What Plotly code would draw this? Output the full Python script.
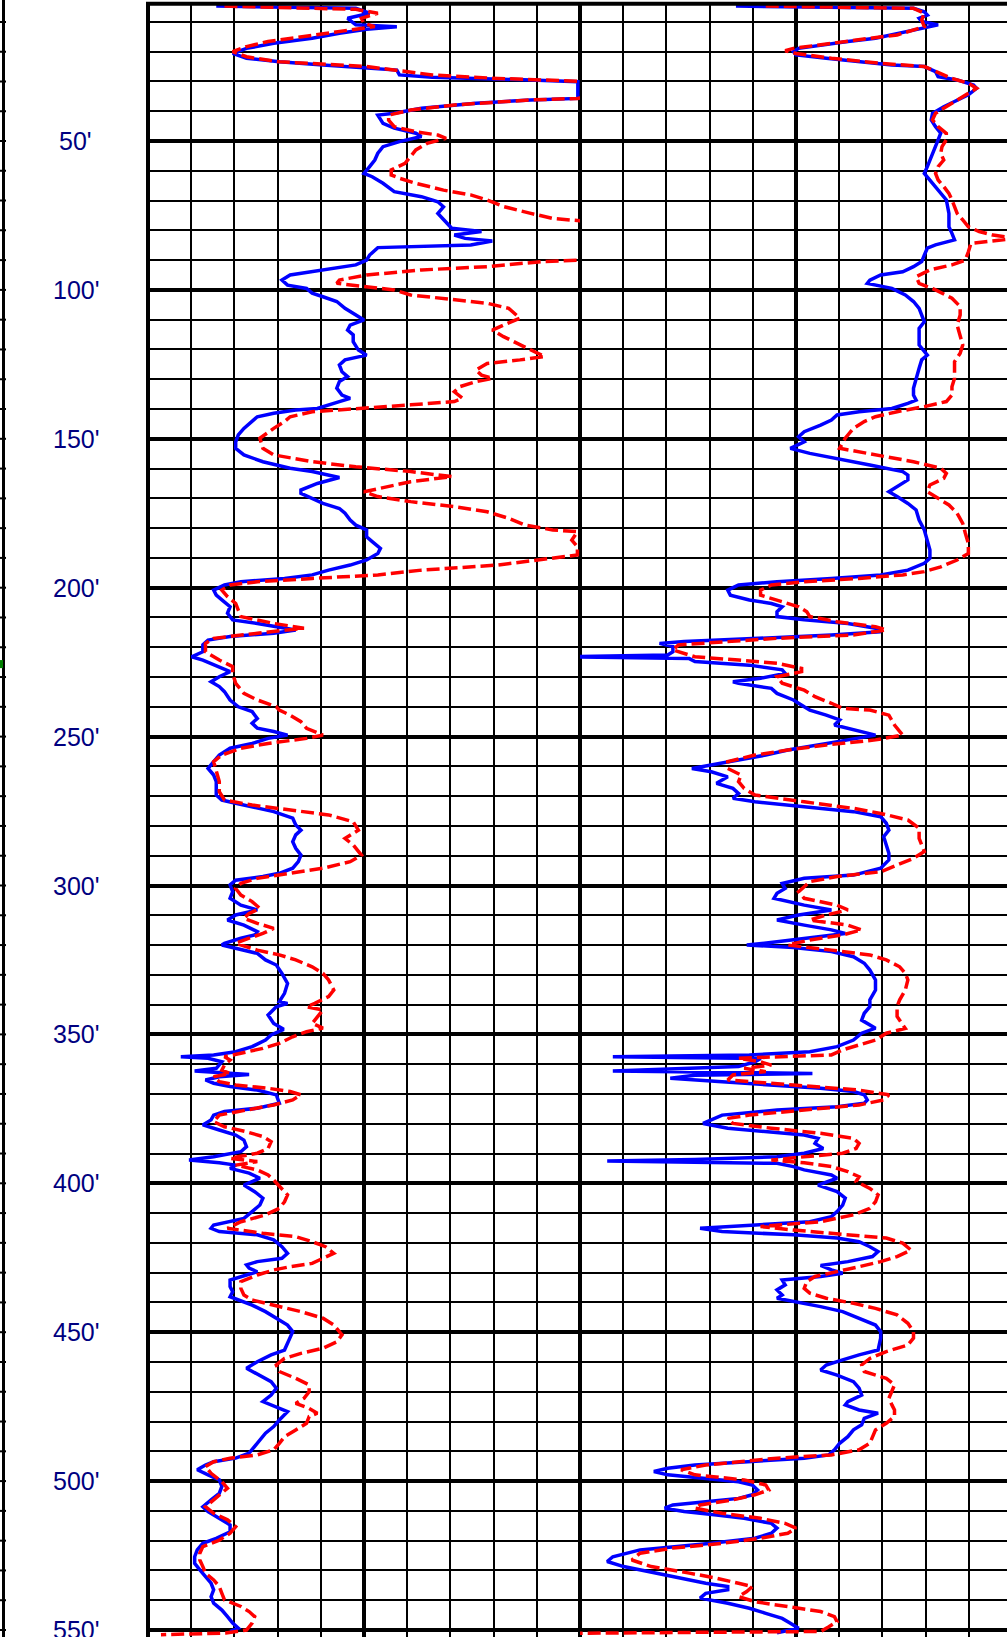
import plotly.graph_objects as go

W, H = 1007, 1637

# ---------------- data: (depth ft, value in track units 0-100) ----------------
left_blue = [(4.7,15.8),(5.45,48.1),(7.1,51.3),(8.8,46.2),(11.0,48.1),(11.6,57.6),(12.5,50.6),(13.8,44.3),(15.5,38),(17.2,29.1),(18.9,22.8),(20.6,19.6),(22.2,22.8),(23.4,30.4),(24.5,40.5),(25.6,50.6),(26.2,57.6),(27.8,58.2),(28.6,65.8),(29.5,88.6),(30.1,99.5),(35.7,99.5),(36.2,88.6),(37.3,75.9),(39.0,63.3),(40.7,57),(41.3,53.2),(44.1,54.4),(45.7,57),(47.4,62),(48.5,63.3),(50.2,58.2),(51.9,54.4),(54.1,53.2),(56.4,52.5),(58.6,51.3),(60.9,50),(62.0,51.9),(64.2,54.4),(67.0,57),(68.7,63.3),(70.4,67.1),(72.1,68.4),(74.3,67.1),(76.5,68.4),(79.3,70.3),(80.4,77.2),(81.6,70.9),(82.7,73.4),(83.6,79.7),(84.9,74.7),(85.8,53.2),(88.3,51.3),(90.0,50.6),(91.6,48.1),(92.8,43),(93.9,38),(95.0,32.9),(96.7,31),(98.4,32.3),(99.5,36.7),(101.1,38),(102.3,40.5),(103.9,43.7),(106.2,45.6),(108.4,48.1),(110.1,50),(111.8,46.8),(113.5,46.2),(115.1,47.5),(117.4,47.5),(120.2,48.7),(121.9,50.6),(123.5,45.6),(125.2,44.3),(127.5,44.9),(129.1,46.2),(130.8,44.3),(133.0,43.7),(135.3,44.9),(136.4,46.8),(137.5,44.3),(138.6,41.8),(139.8,39.2),(140.3,34.2),(141.4,29.1),(142.6,25.3),(144.2,24.1),(146.5,22.2),(148.7,20.9),(151.0,20.3),(153.2,20.3),(155.4,22.2),(157.7,26.6),(159.9,32.9),(161.0,38),(162.2,41.8),(163.0,44.3),(165.0,39.2),(167.2,35.4),(168.3,35.4),(170.0,38),(171.7,40.5),(173.4,44.3),(175.0,45.6),(177.3,46.8),(179.0,48.1),(180.6,50.6),(182.9,50.6),(184.5,51.9),(186.8,53.8),(188.5,53.2),(190.7,50.6),(192.4,46.8),(194.1,41.8),(195.7,38),(196.9,31.6),(198.0,21.5),(199.1,17.7),(200.8,15.2),(202.5,15.8),(204.1,17.1),(206.4,19),(208.6,18.4),(210.8,19.6),(212.0,25.3),(213.1,30.4),(214.2,34.2),(215.3,29.1),(216.4,19),(217.6,13.9),(219.2,12.7),(221.5,12.7),(223.2,10.1),(224.3,12.7),(226.5,16.5),(228.2,19),(229.9,16.5),(231.6,14.6),(233.2,16.5),(234.9,17.7),(237.7,19),(240.0,20.9),(241.6,24.1),(243.9,25.3),(245.5,24.1),(247.2,25.3),(248.3,29.1),(249.5,32.3),(250.6,27.8),(252.3,24.1),(253.9,19),(256.2,16.5),(258.4,15.2),(260.7,13.9),(262.9,15.2),(265.1,15.8),(269.6,15.8),(271.3,17.1),(272.4,20.3),(273.5,24.1),(275.2,29.1),(277.4,33.5),(279.7,34.2),(281.4,35.4),(283.0,34.2),(285.3,33.5),(287.5,34.2),(289.8,35.4),(292.0,34.8),(294.2,33.5),(295.9,30.4),(297.0,26.6),(298.2,20.3),(299.8,19),(302.1,19.6),(304.3,19),(306.6,21.5),(308.2,25.3),(309.9,20.3),(311.6,18.4),(313.3,22.2),(315.5,25.3),(316.6,24.7),(317.7,21.5),(319.4,17.7),(320.0,17.1),(321.1,20.3),(322.8,25.3),(325.0,27.2),(326.7,29.7),(329.5,31),(332.9,32.3),(336.2,31.6),(339.0,30.4),(339.6,32.3),(340.7,29.7),(343.5,27.8),(346.3,29.1),(348.3,31.4),(350.2,28.5),(351.9,27.2),(354.1,24.1),(355.8,20.3),(356.9,15.2),(357.5,7.6),(358.0,13.9),(359.2,17.1),(361.4,15.8),(362.3,10.8),(362.8,16.5),(363.5,23.4),(364.2,16.5),(365.3,13.3),(366.4,15.2),(367.5,19),(368.7,25.3),(370.3,29.7),(373.1,30.4),(374.8,25.3),(375.9,17.7),(377.1,15.2),(378.7,14.6),(380.4,12.7),(382.1,16.5),(383.8,20.3),(385.5,22.2),(387.7,22.8),(389.4,21.5),(391.1,15.2),(392.2,9.5),(393.1,16.5),(393.9,20.3),(395.0,19),(396.6,23.4),(398.3,25.9),(400.6,22.2),(402.8,24.7),(405.0,26.6),(407.3,25.9),(409.5,24.1),(411.8,22.2),(414.0,15.2),(415.1,14.6),(416.2,16.5),(417.3,25.3),(419.0,29.1),(421.3,31),(423.5,32.3),(425.2,31),(426.3,25.3),(427.4,22.8),(428.5,23.4),(429.7,25.3),(430.8,22.8),(432.5,19),(434.7,19),(436.4,19.6),(438.1,19),(439.2,20.9),(440.9,24.1),(443.1,27.2),(445.3,29.7),(447.6,32.3),(449.8,33.5),(452.0,32.9),(456.0,31.6),(457.6,28.5),(459.9,25.3),(462.1,22.8),(464.4,25.9),(466.6,28.5),(468.8,29.7),(471.1,28.5),(473.3,26.6),(474.4,28.5),(476.7,32.3),(479.5,30.4),(481.7,29.1),(483.9,27.2),(486.2,25.9),(488.4,24.7),(490.6,23.4),(492.3,20.3),(493.5,15.2),(494.6,13.3),(496.2,11.4),(497.9,13.9),(499.6,16.5),(501.8,17.1),(504.1,16.5),(506.3,14.6),(508.6,12.7),(510.2,13.9),(512.5,16.5),(514.7,19),(517.0,19),(519.2,15.8),(520.9,12.7),(523.1,11.4),(525.4,10.8),(527.6,10.8),(529.8,12),(532.1,13.3),(534.3,14.6),(536.5,15.2),(538.8,14.6),(541.0,15.2),(543.3,17.1),(545.5,18.4),(547.7,19.6),(549.4,20.9),(550.5,19)]

left_red = [(4.7,17.7),(5.8,48.1),(7.1,53.2),(8.8,49.4),(10.5,50),(11.6,52.5),(12.7,46.8),(13.8,41.8),(15.0,35.4),(16.6,27.8),(18.3,22.8),(20.0,19.6),(21.7,22.8),(23.4,30.4),(25.0,50.6),(26.4,58.2),(27.8,65.8),(29.0,81),(29.9,99.4),(32.8,115),(35.7,99.4),(36.2,88.6),(37.9,70.9),(39.6,60.8),(41.3,55.7),(43.0,55.7),(45.2,57),(46.9,62),(48.0,67.1),(49.1,69),(50.8,64.6),(53.0,62),(55.3,60.8),(57.5,59.5),(59.7,56.3),(61.4,56.3),(62.5,58.2),(64.2,62),(66.5,68.4),(68.1,74.7),(69.8,78.5),(72.0,82.3),(74.3,88.6),(76.0,93.7),(76.8,100),(83.0,115),(90.0,99.4),(90.5,91.1),(92.2,78.5),(93.3,63.3),(95.0,50.6),(96.7,44.3),(97.8,43.7),(98.9,50.6),(100.0,57),(101.7,60.8),(103.4,70.9),(104.5,78.5),(106.2,83.5),(109.5,86.1),(111.8,82.3),(113.5,79.7),(115.7,82.3),(118.5,86.1),(121.3,89.9),(122.4,91.8),(123.5,86.1),(124.7,78.5),(126.9,75.9),(128.6,77.2),(129.7,79.7),(130.8,75.9),(132.5,72.2),(134.2,70.9),(136.4,72.8),(137.5,70.9),(138.6,60.8),(139.8,49.4),(140.9,38),(142.6,32.9),(144.2,31.6),(146.5,29.1),(149.8,25.9),(153.2,26.6),(155.4,29.1),(157.7,38),(159.4,48.1),(161.0,60.8),(162.7,70.3),(164.4,60.8),(166.6,53.2),(167.8,50),(169.4,53.2),(171.1,60.8),(172.8,70.9),(174.5,78.5),(176.7,83.5),(179.0,87.3),(180.6,93.7),(181.2,99.4),(184.0,98.1),(186.2,99.4),(189.0,99.4),(190.7,89.9),(192.4,81),(194.1,63.3),(195.7,53.2),(196.9,38),(198.0,25.3),(199.1,19),(200.8,17.1),(203.0,18.4),(205.3,20.3),(207.5,20.9),(209.7,21.5),(212.0,29.1),(213.6,36.1),(215.3,25.3),(217.0,15.2),(218.7,13.3),(221.5,13.3),(224.3,16.5),(226.5,19.6),(228.8,19.6),(232.1,20.3),(235.5,22.2),(237.7,25.3),(240.0,29.7),(241.1,30.4),(242.8,32.9),(245.0,35.4),(247.2,36.7),(249.5,40.5),(250.6,36.7),(252.3,27.8),(253.9,21.5),(256.2,17.1),(258.4,15.2),(261.8,15.8),(265.1,16.5),(268.5,16.5),(271.3,17.7),(273.0,24.1),(274.6,32.9),(276.3,41.8),(278.6,47.5),(281.4,48.7),(284.2,45.6),(286.4,47.5),(289.8,49.4),(292.0,46.8),(294.2,40.5),(295.9,32.9),(297.6,25.3),(299.3,21.5),(301.0,20.3),(303.2,21.5),(305.4,24.1),(307.7,25.9),(309.4,23.4),(311.0,22.2),(312.7,25.3),(314.4,29.1),(316.1,26.6),(317.7,23.4),(319.4,20.3),(321.7,25.3),(323.3,30.4),(325.0,34.2),(327.3,38),(329.5,40.5),(331.7,41.8),(335.1,43),(337.3,41.8),(339.6,38.6),(340.7,36.7),(341.8,40.5),(344.0,39.2),(346.3,38),(347.9,40.5),(349.1,36.7),(350.8,33.5),(353.0,30.4),(354.7,26.6),(356.4,21.5),(357.5,17.7),(358.6,19),(360.3,17.7),(362.0,17.1),(363.1,19),(364.2,15.2),(365.9,16.5),(367.0,20.3),(368.1,27.8),(369.2,32.9),(370.3,35.4),(372.0,33.5),(373.7,29.1),(375.4,22.8),(377.1,16.5),(379.3,15.2),(381.0,17.7),(382.7,22.8),(384.3,26.6),(386.0,28.5),(388.3,27.8),(389.9,25.3),(391.6,19),(392.7,25.3),(393.9,20.3),(395.5,25.3),(397.2,27.8),(398.9,29.1),(401.7,31),(403.9,32.3),(406.2,31.6),(408.4,30.4),(410.6,27.2),(412.9,21.5),(415.1,18.4),(416.8,26.6),(417.9,34.2),(419.6,38),(421.3,41.1),(423.5,43),(425.2,40.5),(426.9,38),(428.0,32.9),(429.1,29.1),(430.8,25.3),(433.0,21.5),(435.3,21.5),(437.5,22.2),(439.2,24.1),(441.4,30.4),(443.1,35.4),(445.3,40.5),(447.6,43),(450.9,44.9),(453.2,43.7),(455.4,40.5),(457.1,35.4),(458.8,31.6),(461.0,29.7),(463.2,30.4),(465.5,34.2),(467.7,37.3),(470.0,37.3),(472.2,36.1),(473.9,34.2),(475.6,37.3),(477.2,39.2),(478.3,37.3),(480.6,36.7),(482.8,34.2),(485.1,31.6),(487.3,30.4),(489.5,29.1),(491.2,25.3),(492.3,19),(493.5,15.2),(495.1,13.3),(497.4,14.6),(500.2,17.1),(502.4,18.4),(504.6,16.5),(506.9,14.6),(508.6,13.3),(510.8,15.2),(513.0,18.4),(515.3,20.3),(517.5,19),(519.8,16.5),(522.0,12.7),(524.2,12),(526.5,12),(528.7,12.7),(530.9,13.3),(533.2,15.2),(535.4,16.5),(537.7,17.1),(539.9,17.7),(542.1,21.5),(543.8,23.4),(545.5,24.7),(547.7,24.1),(550.0,22.8),(551.0,18),(551.6,3)]

right_blue = [(4.7,36.1),(5.45,77.2),(6.6,79.7),(7.7,80.4),(8.8,78.5),(9.9,79.1),(11.0,82.9),(12.2,79.1),(13.8,74.7),(15.5,68.4),(16.6,62),(17.8,55.7),(18.9,50.6),(20.0,49.4),(21.1,50),(22.2,57),(23.4,64.6),(24.5,72.2),(25.0,79.7),(26.7,82.3),(28.4,82.9),(29.5,87.3),(31.2,91.1),(32.3,91.8),(34.5,89.9),(36.2,87.3),(38.5,84.2),(40.7,81.6),(42.9,81.3),(45.2,82.3),(47.4,83.5),(49.6,82.9),(51.9,82.3),(54.1,81.6),(56.4,81),(58.6,80.4),(60.9,79.7),(63.1,81),(65.3,82.3),(67.6,83.5),(69.8,84.8),(74.3,85.4),(78.8,85.4),(81.0,86.1),(83.2,86.7),(84.9,82.3),(86.0,80.4),(88.3,79.7),(90.5,79.1),(92.2,77.2),(93.9,74.7),(95.0,69.6),(96.7,67.1),(97.8,66.5),(98.3,68.4),(99.5,72.2),(101.7,75.3),(103.9,77.2),(106.2,78.5),(108.4,79.1),(110.7,79.7),(112.9,78.5),(118.5,78.5),(121.9,80.4),(123.5,79.1),(126.3,78.5),(129.7,77.8),(133.0,77.2),(135.3,77.2),(137.0,77.8),(138.1,75.9),(139.8,72.2),(140.9,64.6),(142.0,59.5),(143.7,58.2),(145.4,55.7),(147.6,51.9),(149.3,50.6),(151.0,51.9),(153.2,48.7),(154.9,53.2),(156.6,59.5),(158.8,67.1),(161.0,74.7),(162.2,75.9),(163.8,75.9),(166.1,73.4),(167.8,71.5),(169.4,73.4),(171.7,75.9),(173.9,77.8),(177.3,78.5),(180.6,79.7),(184.0,80.4),(187.3,81),(190.1,81),(191.8,79.7),(194.1,75.9),(195.7,69.6),(196.9,58.2),(198.0,45.6),(199.1,36.7),(200.8,34.2),(202.5,34.8),(204.1,39.2),(205.3,44.3),(206.4,46.8),(208.1,45.6),(209.7,45.6),(210.8,51.9),(212.0,62),(213.6,68.4),(214.8,69.6),(215.9,58.2),(217.0,39.2),(218.1,24.1),(218.7,18.4),(219.8,21.5),(221.5,21.5),(222.6,20.3),(223.2,-3),(223.8,25.3),(224.8,26.6),(226.0,39.2),(227.6,46.8),(228.8,47.5),(230.4,41.8),(231.6,35.4),(232.1,36.7),(233.8,44.3),(235.5,45.6),(237.7,49.4),(240.0,51.9),(241.1,53.2),(242.8,57),(244.4,60.1),(246.1,58.9),(247.8,63.3),(249.5,68.4),(251.1,62),(252.8,54.4),(254.5,48.1),(256.2,43),(257.9,36.7),(259.5,30.4),(260.7,25.9),(261.8,30.4),(263.5,34.2),(265.7,31.6),(267.4,35.4),(269.1,36.7),(270.7,35.4),(271.9,40.5),(273.0,48.1),(274.1,55.7),(275.2,63.3),(276.9,69.6),(279.1,70.9),(281.4,71.5),(283.6,70.3),(286.4,70.9),(289.2,71.5),(291.4,71.5),(294.2,69.6),(296.5,63.3),(297.6,51.9),(299.3,46.8),(301.0,47.5),(302.6,45.6),(304.3,44.9),(306.6,51.9),(308.2,58.2),(309.9,50.6),(311.6,45.6),(313.3,51.9),(314.9,58.2),(316.1,61.4),(317.2,55.7),(318.9,45.6),(320.0,38.6),(320.8,49.4),(322.2,58.2),(323.9,63.3),(326.1,65.8),(328.4,67.1),(331.7,68.4),(335.1,68.4),(338.4,67.1),(340.7,67.1),(342.9,65.8),(345.2,65.2),(347.9,68.4),(349.6,65.2),(351.9,63.3),(354.1,59.5),(355.8,53.2),(356.9,39.2),(357.5,7.6),(358.1,41.8),(359.2,40.5),(360.8,36.7),(362.3,7.6),(363.1,53.8),(363.7,26.6),(364.7,20.9),(365.9,32.9),(367.0,45.6),(368.1,55.7),(369.2,63.3),(370.3,65.8),(372.0,66.5),(373.1,65.8),(374.3,59.5),(375.4,45.6),(377.1,32.9),(378.7,30.4),(379.9,28.5),(381.5,34.2),(382.7,43),(383.8,51.9),(384.9,55.1),(386.6,54.4),(388.3,56.3),(389.9,51.9),(391.1,45.6),(392.0,26.6),(392.5,6.3),(393.3,45.6),(394.4,49.4),(395.5,51.9),(397.2,58.2),(398.3,59.5),(400.6,55.1),(402.8,59.5),(405.0,61.4),(407.3,60.8),(409.5,59.5),(411.2,58.2),(412.9,53.2),(414.0,40.5),(415.1,27.8),(416.2,32.9),(417.3,49.4),(418.4,59.5),(419.6,64.6),(421.3,67.1),(422.9,69),(424.6,67.7),(426.3,62),(427.6,55.7),(429.1,58.2),(430.2,60.8),(431.3,55.7),(432.5,46.8),(434.1,47.5),(435.8,45.6),(437.5,46.8),(438.6,45.6),(439.7,50),(441.4,55.7),(443.1,60.8),(445.3,64.6),(447.6,68.4),(449.8,69.6),(452.0,69.6),(456.0,69),(457.6,64.6),(459.3,60.8),(461.0,57),(462.7,55.7),(464.4,59.5),(466.6,63.3),(468.8,64.6),(471.1,65.2),(473.3,62),(474.4,61.4),(476.1,64.6),(477.2,69),(478.9,65.8),(481.1,65.2),(482.8,63.3),(485.1,62),(487.3,60.1),(489.5,58.9),(491.2,57.6),(492.3,51.9),(493.5,39.2),(494.6,26.6),(495.7,20.3),(496.8,17.1),(497.9,20.3),(499.0,29.1),(500.2,36.7),(501.3,39.9),(503.0,41.1),(504.6,39.9),(505.8,36.7),(506.9,29.1),(508.0,21.5),(509.1,19.6),(510.2,24.1),(511.4,31.6),(512.5,38),(514.2,44.3),(515.8,45.6),(517.5,44.3),(519.2,40.5),(520.9,30.4),(522.0,21.5),(523.1,13.9),(525.4,7.6),(527.0,6.3),(528.7,10.1),(530.9,17.7),(532.6,24.1),(534.3,29.1),(535.4,34.2),(536.5,34.2),(537.7,29.1),(539.3,27.8),(541.0,34.2),(542.7,39.2),(544.4,43),(546.1,46.8),(547.7,48.7),(549.4,50.6),(550.9,45.6)]

right_red = [(4.7,43),(5.45,77.2),(7.1,79.7),(9.4,79.1),(11.6,79.7),(12.7,77.2),(14.4,73.4),(15.5,67.1),(17.2,58.2),(18.9,49.4),(19.7,47.5),(20.6,50),(22.2,58.2),(23.9,69.6),(25.0,79.7),(26.7,82.3),(29.0,86.1),(30.6,89.9),(32.3,91.8),(34.0,89.9),(36.2,87.3),(38.5,84.8),(40.7,82.3),(42.9,81.6),(45.2,82.9),(47.4,84.8),(49.6,84.8),(51.9,83.8),(54.1,83.5),(56.4,84.2),(58.6,82.9),(60.9,82.3),(63.1,82.9),(65.3,84.2),(67.6,85.4),(69.8,86.1),(72.0,86.7),(74.3,87.3),(76.5,88.6),(78.8,89.9),(80.4,92.4),(81.6,95.6),(82.7,101),(84.4,90.5),(87.2,89.9),(90.0,89.2),(91.6,86.1),(93.3,81),(95.6,77.8),(97.8,78.5),(100.0,82.3),(102.8,86.1),(105.6,88),(108.4,88),(111.8,87.3),(115.1,88),(118.5,88.6),(121.3,88),(124.1,86.7),(129.7,86.7),(132.5,86.1),(135.3,86.1),(137.5,84.8),(139.2,79.7),(140.9,73.4),(142.6,68.4),(144.2,65.8),(146.5,63.3),(149.8,61.4),(153.2,60.1),(155.4,68.4),(157.7,77.2),(159.9,83.5),(161.6,84.8),(163.3,84.2),(165.5,81),(167.8,80.4),(170.0,82.9),(172.2,85.4),(175.0,87.3),(178.4,88.6),(181.7,89.2),(185.1,89.9),(188.5,89.9),(190.7,87.3),(193.0,83.5),(194.6,79.7),(195.7,74.7),(196.9,64.6),(198.0,51.9),(199.1,44.3),(200.8,41.8),(202.5,41.8),(204.7,46.8),(206.4,50.6),(208.1,52.5),(209.7,53.2),(211.4,59.5),(213.1,68.4),(214.2,70.9),(215.9,63.3),(217.0,45.6),(218.1,32.9),(219.2,22.8),(220.9,21.5),(222.0,24.1),(223.2,26.6),(224.3,36.7),(225.4,45.6),(227.1,51.3),(228.2,51.3),(229.9,45.6),(232.1,46.8),(234.4,51.9),(236.6,54.4),(238.8,58.2),(240.5,60.8),(241.1,67.1),(242.8,71.5),(246.1,72.8),(249.5,74.7),(251.1,68.4),(252.8,57),(254.5,48.1),(256.2,40.5),(258.4,34.2),(260.7,34.2),(262.9,37.3),(265.1,36.7),(267.4,38),(269.6,40.5),(271.9,51.9),(274.1,63.3),(275.8,69.6),(278.0,75.9),(280.8,78.5),(284.2,78.5),(288.6,79.7),(290.9,77.2),(293.1,73.4),(295.4,69.6),(297.0,59.5),(298.7,53.2),(300.4,51.9),(302.1,50.6),(304.3,51.9),(306.6,59.5),(308.2,62),(309.9,57),(311.6,53.2),(313.3,62),(314.9,65.2),(316.6,60.8),(318.3,53.2),(320.0,48.1),(321.7,58.2),(323.3,67.1),(325.0,70.9),(327.3,74),(329.5,75.3),(331.7,75.9),(335.1,75.3),(338.4,74),(340.7,73.4),(344.0,73.4),(348.0,75.3),(349.6,70.9),(351.9,68.4),(353.6,64.6),(355.2,60.8),(356.9,58.2),(358.0,36.7),(359.2,41.8),(360.3,44.3),(361.4,38),(362.5,43),(363.6,35.4),(365.3,34.2),(367.0,49.4),(368.7,64.6),(370.3,71.5),(372.0,70.3),(373.7,64.6),(375.4,51.9),(377.1,39.2),(378.2,34.2),(379.9,35.4),(381.5,44.3),(383.2,55.7),(384.9,63.3),(386.6,64.6),(388.3,63.9),(389.9,60.8),(391.1,51.9),(392.2,44.3),(393.1,51.9),(394.4,58.2),(396.1,62),(397.8,64.6),(399.4,63.9),(401.7,67.1),(403.9,69),(406.2,68.4),(408.4,67.1),(410.6,63.3),(412.9,55.7),(414.5,41.8),(415.7,49.4),(417.3,62),(418.4,70.9),(420.1,74.7),(422.4,76.6),(424.6,73.4),(426.3,69.6),(428.0,64.6),(429.7,59.5),(431.3,54.4),(433.0,52.5),(435.3,51.9),(436.9,53.2),(438.6,57),(440.3,63.3),(442.0,68.4),(444.2,73.4),(447.0,75.9),(449.8,77.2),(452.0,77.2),(454.3,75.9),(456.5,70.9),(458.8,67.1),(461.0,65.2),(463.2,65.8),(465.5,70.9),(467.7,72.8),(470.0,72.2),(472.2,71.5),(474.4,72.2),(476.1,72.8),(478.3,72.8),(480.6,70.9),(482.8,68.4),(485.1,67.7),(487.3,67.1),(489.5,64.6),(491.2,58.2),(492.3,45.6),(493.5,36.7),(494.6,29.1),(496.2,23.4),(497.9,26.6),(499.6,38),(501.3,43),(503.0,43.7),(504.6,40.5),(506.3,35.4),(508.0,27.8),(509.1,26.6),(510.8,32.9),(512.5,41.8),(514.2,47.5),(515.8,50),(517.5,48.1),(519.2,41.8),(520.9,32.9),(522.5,21.5),(524.2,13.9),(526.5,12),(528.7,16.5),(530.9,25.3),(532.6,31.6),(534.3,36.7),(535.4,39.9),(537.1,38.6),(538.8,36.7),(540.5,40.5),(542.1,48.1),(543.8,55.7),(545.5,58.9),(547.2,59.5),(548.9,57.6),(550.5,55.7),(551.1,-3)]

depth_labels = [50, 100, 150, 200, 250, 300, 350, 400, 450, 500, 550]
depth_ticks = list(range(10, 560, 10))
marker_depth = (224.3, 227.0)

# ---------------- geometry ----------------
X_LEFT, X_MID, TRACK_W = 148, 580, 432
TOP_PX = 3.7
PX_PER_FT = 2.978
d_top = 50 + (TOP_PX - 141) / PX_PER_FT
d_bot = 50 + (H - 141) / PX_PER_FT

def unzip(pairs):
    return [p[0] for p in pairs], [p[1] for p in pairs]

fig = go.Figure()
blue = dict(color='#0000ff', width=3.5)
red = dict(color='#ff0000', width=3.5, dash='13px,5px')
for pairs, ln, xa in [(left_blue, blue, 'x'), (left_red, red, 'x'),
                      (right_blue, blue, 'x2'), (right_red, red, 'x2')]:
    d, v = unzip(pairs)
    fig.add_trace(go.Scatter(x=v, y=d, mode='lines', line=ln, xaxis=xa, yaxis='y',
                             showlegend=False, hoverinfo='skip'))

grid = dict(showgrid=True, gridcolor='black', gridwidth=4, dtick=50, tick0=0,
            minor=dict(dtick=10, tick0=0, showgrid=True, gridcolor='black', gridwidth=2),
            showticklabels=False, ticks='', zeroline=False, showline=False, fixedrange=True)

fig.update_layout(
    width=W, height=H, margin=dict(l=0, r=0, t=0, b=0),
    paper_bgcolor='white', plot_bgcolor='white',
    xaxis=dict(domain=[X_LEFT / W, X_MID / W], range=[0, 100], anchor='y', **grid),
    xaxis2=dict(domain=[X_MID / W, 1], range=[0, 100 * (W - X_MID) / TRACK_W], anchor='y', **grid),
    yaxis=dict(domain=[0, 1 - TOP_PX / H], range=[d_bot, d_top], anchor='x', **grid),
)

shapes = []
for xp in (X_LEFT, X_MID):
    shapes.append(dict(type='line', xref='paper', yref='paper', x0=xp / W, x1=xp / W,
                       y0=0, y1=1 - TOP_PX / H, line=dict(color='black', width=4), layer='below'))
shapes.append(dict(type='line', xref='paper', yref='paper', x0=(X_LEFT - 2) / W, x1=1,
                   y0=1 - TOP_PX / H, y1=1 - TOP_PX / H, line=dict(color='black', width=4)))
shapes.append(dict(type='line', xref='paper', yref='paper', x0=3.5 / W, x1=3.5 / W, y0=0, y1=1,
                   line=dict(color='black', width=3)))
for t in depth_ticks:
    shapes.append(dict(type='line', xref='paper', yref='y', x0=0, x1=6 / W, y0=t, y1=t,
                       line=dict(color='black', width=2)))
shapes.append(dict(type='rect', xref='paper', yref='y', x0=0, x1=3 / W,
                   y0=marker_depth[0], y1=marker_depth[1], line=dict(width=0), fillcolor='#008000'))
fig.update_layout(shapes=shapes)

for dl in depth_labels:
    fig.add_annotation(x=75.5 / W, xref='paper', y=dl, yref='y', text=f"{dl}'", showarrow=False,
                       xanchor='center', yanchor='middle',
                       font=dict(family='Liberation Sans, Arial, sans-serif', size=25, color='#000080'))

fig.write_html("out.html", config={'displayModeBar': False, 'staticPlot': True},
               post_script="document.body.style.margin='0px';document.body.style.overflow='hidden';")
